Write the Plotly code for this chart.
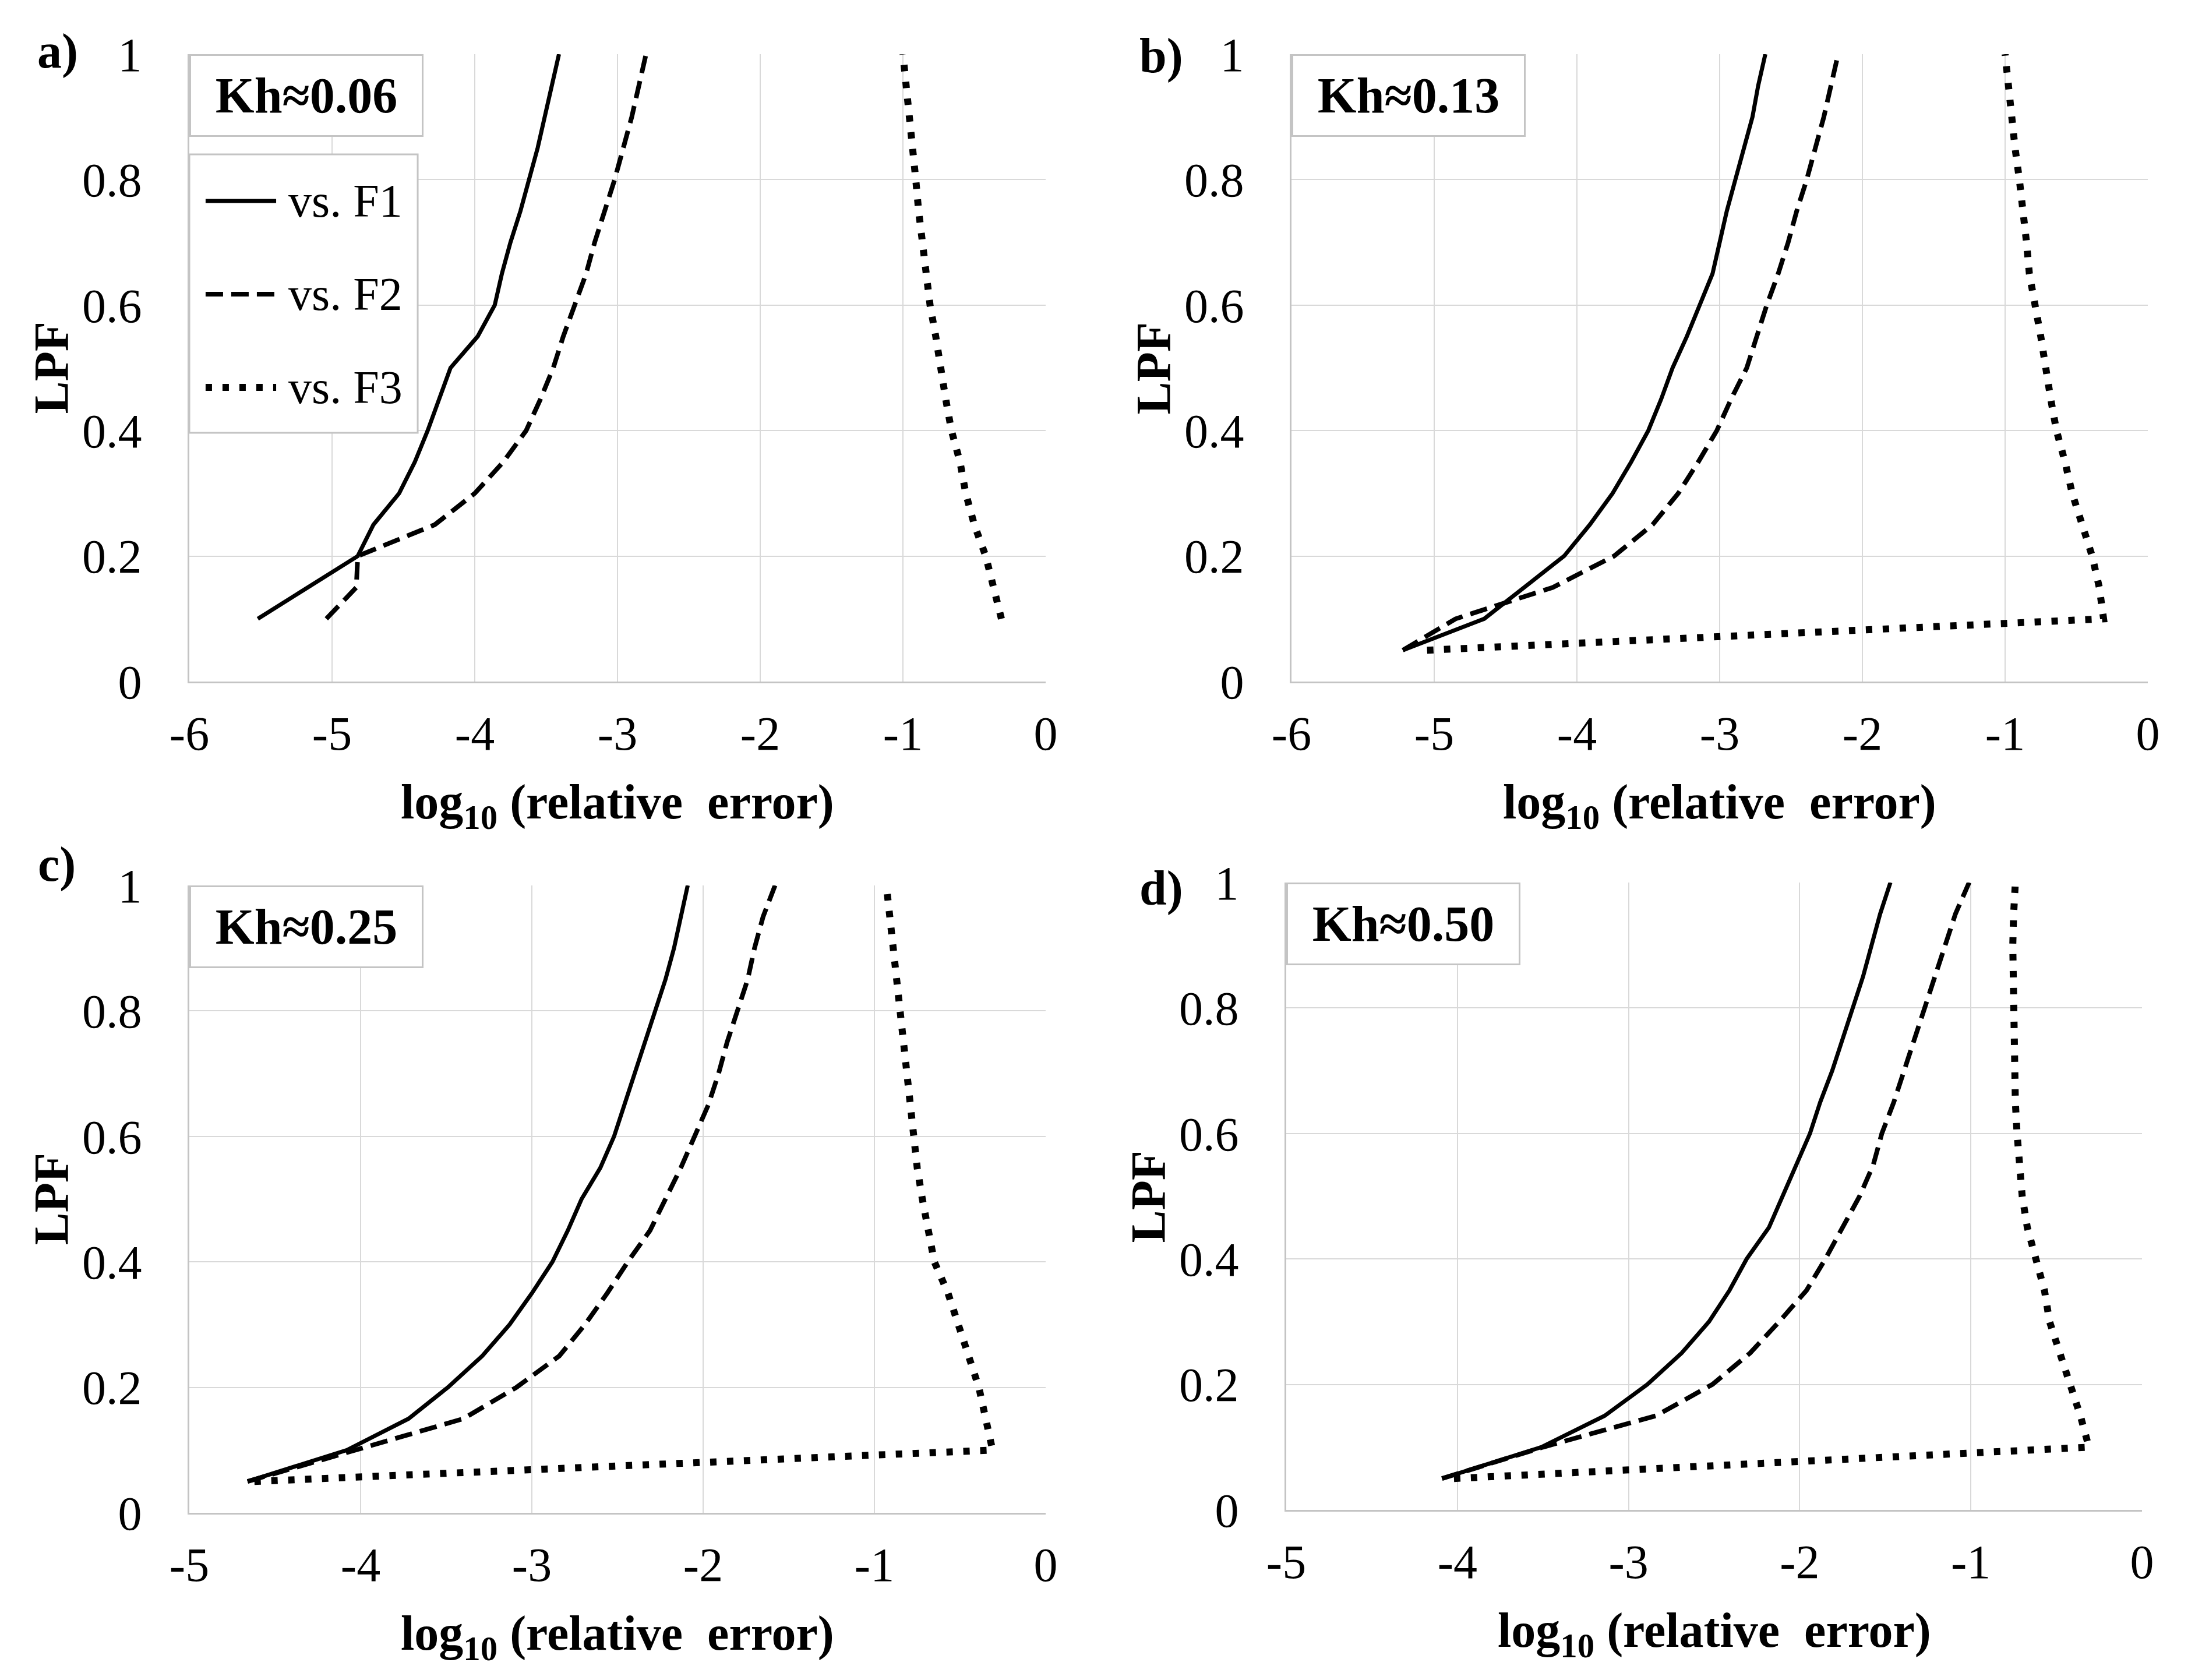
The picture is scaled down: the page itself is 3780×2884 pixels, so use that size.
import plotly.graph_objects as go
from plotly.subplots import make_subplots

# LPF values (y) for each curve
LPF_A = [0.1, 0.15, 0.2, 0.25, 0.3, 0.35, 0.4, 0.45, 0.5, 0.55,
         0.6, 0.65, 0.7, 0.75, 0.8, 0.85, 0.9, 0.95, 1.0]
LPF = [0.05, 0.1, 0.15, 0.2, 0.25, 0.3, 0.35, 0.4, 0.45, 0.5, 0.55,
       0.6, 0.65, 0.7, 0.75, 0.8, 0.85, 0.9, 0.95, 1.0]

# log10(relative error), panel a) Kh~0.06
A_F1 = [-5.52, -5.17, -4.82, -4.71, -4.53, -4.42, -4.33, -4.25, -4.17, -3.98,
        -3.86, -3.81, -3.75, -3.68, -3.62, -3.56, -3.51, -3.46, -3.41]
A_F2 = [-5.04, -4.83, -4.82, -4.28, -4.0, -3.8, -3.64, -3.54, -3.45, -3.38,
        -3.3, -3.22, -3.16, -3.09, -3.02, -2.96, -2.9, -2.85, -2.8]
A_F3 = [-0.31, -0.36, -0.42, -0.5, -0.56, -0.6, -0.66, -0.7, -0.73, -0.77,
        -0.81, -0.84, -0.86, -0.89, -0.91, -0.93, -0.95, -0.98, -1.0]

# panel b) Kh~0.13
B_F1 = [-5.22, -4.65, -4.37, -4.09, -3.91, -3.75, -3.62, -3.5, -3.41, -3.33,
        -3.23, -3.14, -3.05, -3.0, -2.95, -2.89, -2.83, -2.77, -2.73, -2.68]
B_F2 = [-5.22, -4.85, -4.17, -3.74, -3.47, -3.29, -3.15, -3.02, -2.92, -2.81,
        -2.74, -2.67, -2.59, -2.52, -2.46, -2.39, -2.33, -2.27, -2.22, -2.17]
B_F3 = [-5.05, -0.31, -0.34, -0.39, -0.46, -0.53, -0.58, -0.64, -0.68, -0.71,
        -0.75, -0.79, -0.83, -0.85, -0.87, -0.9, -0.93, -0.95, -0.98, -1.0]

# panel c) Kh~0.25
C_F1 = [-4.66, -4.08, -3.72, -3.49, -3.29, -3.13, -3.0, -2.88, -2.79, -2.71,
        -2.6, -2.52, -2.46, -2.4, -2.34, -2.28, -2.22, -2.17, -2.13, -2.09]
C_F2 = [-4.66, -4.04, -3.4, -3.09, -2.84, -2.69, -2.56, -2.44, -2.31, -2.22,
        -2.13, -2.05, -1.97, -1.91, -1.86, -1.8, -1.74, -1.7, -1.65, -1.58]
C_F3 = [-4.62, -0.31, -0.35, -0.39, -0.45, -0.51, -0.57, -0.65, -0.69, -0.72,
        -0.75, -0.77, -0.79, -0.81, -0.84, -0.86, -0.88, -0.9, -0.91, -0.93]

# panel d) Kh~0.50
D_F1 = [-4.09, -3.51, -3.14, -2.89, -2.69, -2.53, -2.41, -2.31, -2.18, -2.1,
        -2.02, -1.94, -1.88, -1.81, -1.75, -1.69, -1.63, -1.58, -1.53, -1.47]
D_F2 = [-4.09, -3.5, -2.84, -2.51, -2.29, -2.12, -1.96, -1.85, -1.75, -1.65,
        -1.57, -1.52, -1.45, -1.39, -1.33, -1.27, -1.21, -1.15, -1.09, -1.01]
D_F3 = [-4.02, -0.31, -0.36, -0.42, -0.49, -0.54, -0.57, -0.62, -0.67, -0.7,
        -0.72, -0.73, -0.74, -0.745, -0.75, -0.755, -0.755, -0.755, -0.75, -0.74]

PANEL_LABELS = ["a)", "b)", "c)", "d)"]
KH_LABELS = ["Kh\u22480.06", "Kh\u22480.13", "Kh\u22480.25", "Kh\u22480.50"]
SERIES_NAMES = ["vs. F1", "vs. F2", "vs. F3"]
X_TICKS_6 = [-6, -5, -4, -3, -2, -1, 0]
X_TICKS_5 = [-5, -4, -3, -2, -1, 0]

W, H = 3780, 2884
FONT = "Liberation Serif"
GRID = "#d9d9d9"
AXLINE = "#c4c4c4"

# plot areas in pixels: left, right, top, bottom
BOXES = [(317, 1787, 85, 1162), (2209, 3679, 85, 1162),
         (317, 1787, 1512, 2589), (2200, 3669, 1507, 2584)]
# panel letter positions (left x, centre y)
LETTER_POS = [(54, 80), (1946, 88), (55, 1476), (1946, 1517)]

STYLES = [dict(color="black", width=7),
          dict(color="black", width=8, dash="30px,14px"),
          dict(color="black", width=12, dash="11px,18px")]


def main():
    fig = make_subplots(rows=2, cols=2)
    panels = [
        (LPF_A, [A_F1, A_F2, A_F3], X_TICKS_6),
        (LPF, [B_F1, B_F2, B_F3], X_TICKS_6),
        (LPF, [C_F1, C_F2, C_F3], X_TICKS_5),
        (LPF, [D_F1, D_F2, D_F3], X_TICKS_5),
    ]

    for i, (lpf, series, xt) in enumerate(panels):
        row, col = i // 2 + 1, i % 2 + 1
        for name, xs, st in zip(SERIES_NAMES, series, STYLES):
            fig.add_trace(
                go.Scatter(x=xs, y=lpf, mode="lines", name=name,
                           line=st, showlegend=False),
                row=row, col=col
            )

        l, r, t, b = BOXES[i]
        n = "" if i == 0 else str(i + 1)
        fig.layout["xaxis" + n].update(
            domain=[l / W, r / W], range=[xt[0], 0], automargin=False,
            tickvals=xt, ticktext=[str(v) for v in xt],
            showgrid=True, gridcolor=GRID, gridwidth=2,
            showline=True, linecolor=AXLINE, linewidth=3,
            zeroline=False, ticks="", ticklabelstandoff=16,
            tickfont=dict(family=FONT, size=82, color="black"),
        )
        fig.layout["yaxis" + n].update(
            domain=[1 - b / H, 1 - t / H], range=[0, 1], automargin=False,
            tickvals=[0, 0.2, 0.4, 0.6, 0.8, 1],
            ticktext=["0", "0.2", "0.4", "0.6", "0.8", "1"],
            showgrid=True, gridcolor=GRID, gridwidth=2,
            showline=True, linecolor=AXLINE, linewidth=3,
            zeroline=False, ticks="", ticklabelstandoff=62,
            tickfont=dict(family=FONT, size=82, color="black"),
        )

        # axis titles
        fig.add_annotation(
            x=(l + r) / 2 / W, y=1 - (b + 213) / H, xref="paper", yref="paper",
            text="<b>log<sub>10</sub> (relative  error)</b>", showarrow=False,
            xanchor="center", yanchor="middle",
            font=dict(family=FONT, size=84, color="black"),
        )
        fig.add_annotation(
            x=(l - 237) / W, y=1 - (t + b) / 2 / H, xref="paper", yref="paper",
            text="<b>LPF</b>", showarrow=False, textangle=-90,
            xanchor="center", yanchor="middle",
            font=dict(family=FONT, size=84, color="black"),
        )
        # panel letter
        lx, ly = LETTER_POS[i]
        fig.add_annotation(
            x=lx / W, y=1 - ly / H, xref="paper", yref="paper",
            text="<b>" + PANEL_LABELS[i] + "</b>", showarrow=False,
            xanchor="left", yanchor="middle",
            font=dict(family=FONT, size=84, color="black"),
        )
        # Kh box
        fig.add_annotation(
            x=0, y=1, xref="x" + n + " domain", yref="y" + n + " domain",
            text="<b>" + KH_LABELS[i] + "</b>", showarrow=False,
            xanchor="left", yanchor="top", width=388, height=128,
            borderpad=4, borderwidth=3, bordercolor="#c4c4c4", bgcolor="white",
            font=dict(family=FONT, size=86, color="black"),
        )

    # legend box drawn in panel a
    fig.add_shape(type="rect", xref="x domain", yref="y domain",
                  x0=0, x1=0.2667, y0=0.3965, y1=0.8403,
                  line=dict(color="#c4c4c4", width=3), fillcolor="white",
                  layer="above")
    legend_y = [0.766, 0.6175, 0.4689]
    for name, st, ly in zip(SERIES_NAMES, STYLES, legend_y):
        fig.add_shape(type="line", xref="x domain", yref="y domain",
                      x0=0.019, x1=0.1014, y0=ly, y1=ly, line=st,
                      layer="above")
        fig.add_annotation(
            x=0.1143, y=ly, xref="x domain", yref="y domain",
            text=name, showarrow=False, xanchor="left", yanchor="middle",
            font=dict(family=FONT, size=80, color="black"),
        )

    fig.update_layout(
        width=W, height=H,
        margin=dict(l=0, r=0, t=0, b=0, autoexpand=False),
        plot_bgcolor="white", paper_bgcolor="white",
        showlegend=False,
        font=dict(family=FONT, color="black"),
    )
    fig.write_html("out.html")


if __name__ == "__main__":
    main()
